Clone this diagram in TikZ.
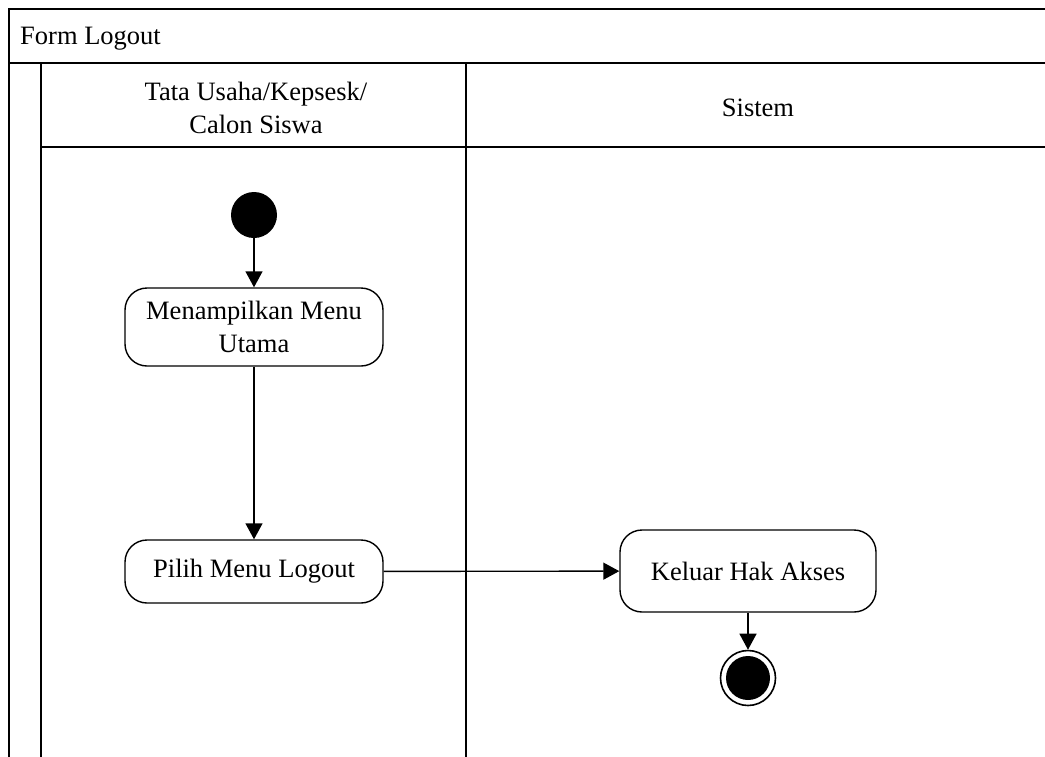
\documentclass[tikz,border=0pt]{standalone}
\usepackage{fontspec}
\setmainfont{Liberation Serif}
\usetikzlibrary{shapes,arrows.meta}
\usetikzlibrary{positioning}

\tikzset{
    lane/.style={line width=1.8pt, black},
    lanetext/.style={font=\fontsize{26.5}{33}\selectfont},
    activity/.style={draw, line width=1.4pt, rounded corners=22pt, align=center,
        minimum width=258pt, lanetext},
    flow/.style={line width=1.4pt, -{Triangle[length=16pt,width=17pt]}},
    startnode/.style={circle, fill=black, minimum size=46pt, inner sep=0pt},
    endnode/.style={circle, draw, line width=1.6pt, minimum size=55pt, inner sep=0pt,
        path picture={\fill (path picture bounding box.center) circle (22pt);}}
}

\begin{document}
\begin{tikzpicture}[x=1pt,y=-1pt]
    \useasboundingbox (0,0) rectangle (1045,756);
    \clip (0,0) rectangle (1045,756);
    % swimlane frame
    \draw[lane] (9,800) -- (9,9) -- (1050,9) -- (1050,800);
    \draw[lane] (9,63) -- (1050,63);
    \draw[lane] (41,63) -- (41,800);
    \draw[lane] (466,63) -- (466,800);
    \draw[lane] (41,147) -- (1050,147);
    \node[anchor=west, lanetext, inner sep=0pt] (title) at (20,39) {Form Logout};
    \node[align=center, lanetext] (user) at (256,108) {Tata Usaha/Kepsesk/\\Calon Siswa};
    \node[lanetext] (sistem) at (758,108) {Sistem};

    % activities
    \node[startnode] (start) at (254,215) {};
    \node[activity, minimum height=78pt] (menu) at (254,327) {Menampilkan Menu\\Utama};
    \node[activity, minimum height=63pt] (logout) at (254,571.5) {Pilih Menu Logout};
    \node[activity, minimum width=256pt, minimum height=82pt] (keluar) at (748,571) {Keluar Hak Akses};
    \node[endnode] (end) at (748,678) {};

    \draw[flow] (start) -- (menu);
    \draw[flow] (menu) -- (logout);
    \draw[flow] (logout) -- (keluar);
    \draw[flow] (keluar) -- (end);
\end{tikzpicture}
\end{document}
